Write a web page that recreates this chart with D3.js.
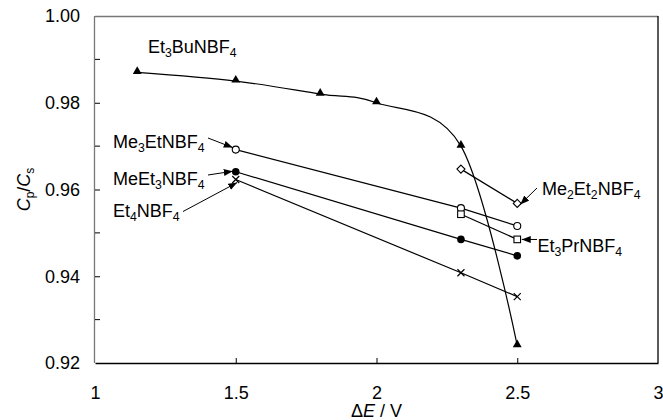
<!DOCTYPE html>
<html><head><meta charset="utf-8">
<script src="https://cdn.jsdelivr.net/npm/d3@7/dist/d3.min.js"></script>
<style>body{margin:0;background:#fff}svg{display:block}text{font-family:"Liberation Sans",Arial,sans-serif;fill:#000}</style>
</head><body><svg id="c" width="663" height="420"></svg>
<script>
// ---- data ----
const xTicks = [1, 1.5, 2, 2.5, 3];
const yTicks = [0.92, 0.94, 0.96, 0.98, 1.00];
const yMinorTicks = [0.93, 0.95, 0.97, 0.99];
const seriesNames = ["Et3BuNBF4", "Me3EtNBF4", "MeEt3NBF4", "Et4NBF4", "Me2Et2NBF4", "Et3PrNBF4"];
const et3BuX = [1.15, 1.5, 1.8, 2.0, 2.3, 2.5];
const et3BuY = [0.987, 0.985, 0.982, 0.980, 0.970, 0.924];
const me3EtX = [1.5, 2.3, 2.5];
const me3EtY = [0.9692, 0.9557, 0.9516];
const meEt3X = [1.5, 2.3, 2.5];
const meEt3Y = [0.9641, 0.9485, 0.9447];
const et4X = [1.5, 2.3, 2.5];
const et4Y = [0.9623, 0.9408, 0.9353];
const me2Et2X = [2.3, 2.5];
const me2Et2Y = [0.9647, 0.9568];
const et3PrX = [2.3, 2.5];
const et3PrY = [0.9543, 0.9485];

const svg = d3.select("#c");
const L = 95, R = 658, T = 16, B = 363;
const x = d3.scaleLinear().domain([1, 3]).range([L, R]);
const y = d3.scaleLinear().domain([0.92, 1.00]).range([B, T]);

// frame
svg.append("line").attr("x1", L).attr("x2", R).attr("y1", T + 0.5).attr("y2", T + 0.5).attr("stroke", "#777").attr("stroke-width", 1.3);
svg.append("line").attr("x1", L - 0.5).attr("x2", L - 0.5).attr("y1", T).attr("y2", B).attr("stroke", "#777").attr("stroke-width", 1.3);
svg.append("line").attr("x1", R).attr("x2", R).attr("y1", T).attr("y2", B).attr("stroke", "#000").attr("stroke-width", 1.3);

// axes
const xAxis = d3.axisBottom(x).tickValues(xTicks).tickFormat(d3.format("")).tickSizeInner(-5).tickSizeOuter(0).tickPadding(23);
const gx = svg.append("g").attr("transform", `translate(0,${B})`).call(xAxis);
gx.select(".domain").attr("stroke", "#000").attr("stroke-width", 1.3);
gx.selectAll(".tick line").attr("stroke", "#000").filter(d => d === 1 || d === 3).remove();
gx.selectAll(".tick text").style("font-size", "18px").style("font-family", '"Liberation Sans",Arial,sans-serif');

const yAxis = d3.axisLeft(y).tickValues(yTicks).tickFormat(d3.format(".2f")).tickSizeInner(-5).tickSizeOuter(0).tickPadding(15);
const gy = svg.append("g").attr("transform", `translate(${L},0)`).call(yAxis);
gy.select(".domain").remove();
gy.selectAll(".tick line").attr("stroke", "#000").filter(d => d === 0.92 || d === 1.00).remove();
gy.selectAll(".tick text").style("font-size", "18px").style("font-family", '"Liberation Sans",Arial,sans-serif');
gy.selectAll(".minor").data(yMinorTicks).enter().append("line")
  .attr("x1", 0).attr("x2", 5).attr("y1", d => y(d)).attr("y2", d => y(d)).attr("stroke", "#000");

// axis titles
const xt = svg.append("text").attr("x", (L + R) / 2).attr("y", 417).attr("text-anchor", "middle").style("font-size", "18px");
xt.append("tspan").text("Δ");
xt.append("tspan").style("font-style", "italic").text("E");
xt.append("tspan").text(" / V");
const yt = svg.append("text").attr("transform", `translate(30,${(T + B) / 2}) rotate(-90)`).attr("text-anchor", "middle").style("font-size", "18px");
yt.append("tspan").style("font-style", "italic").text("C");
yt.append("tspan").attr("dy", 4).style("font-size", "12px").text("p");
yt.append("tspan").attr("dy", -4).text("/");
yt.append("tspan").style("font-style", "italic").text("C");
yt.append("tspan").attr("dy", 4).style("font-size", "12px").text("s");

// lines
const zip = (xs, ys) => xs.map((v, i) => [v, ys[i]]);
const straight = d3.line().x(d => x(d[0])).y(d => y(d[1]));
const smooth = d3.line().x(d => x(d[0])).y(d => y(d[1])).curve(d3.curveCardinal.tension(0));
const gl = svg.append("g").attr("fill", "none").attr("stroke", "#000").attr("stroke-width", 1.2);
gl.append("path").attr("d", smooth(zip(et3BuX, et3BuY)));
[[me3EtX, me3EtY], [meEt3X, meEt3Y], [et4X, et4Y], [me2Et2X, me2Et2Y], [et3PrX, et3PrY]]
  .forEach(([xs, ys]) => gl.append("path").attr("d", straight(zip(xs, ys))));

// markers
const gm = svg.append("g");
gm.selectAll(".tri").data(zip(et3BuX, et3BuY)).enter().append("path")
  .attr("d", d3.symbol(d3.symbolTriangle, 34)).attr("transform", d => `translate(${x(d[0])},${y(d[1]) - 1})`).attr("fill", "#000");
gm.selectAll(".oc").data(zip(me3EtX, me3EtY)).enter().append("circle")
  .attr("cx", d => x(d[0])).attr("cy", d => y(d[1])).attr("r", 3.5).attr("fill", "#fff").attr("stroke", "#000").attr("stroke-width", 1.1);
gm.selectAll(".fc").data(zip(meEt3X, meEt3Y)).enter().append("circle")
  .attr("cx", d => x(d[0])).attr("cy", d => y(d[1])).attr("r", 3.8).attr("fill", "#000");
gm.selectAll(".xm").data(zip(et4X, et4Y)).enter().append("path")
  .attr("d", "M-3.5,-3.5L3.5,3.5M-3.5,3.5L3.5,-3.5").attr("transform", d => `translate(${x(d[0])},${y(d[1])})`).attr("stroke", "#000").attr("stroke-width", 1.2);
gm.selectAll(".dm").data(zip(me2Et2X, me2Et2Y)).enter().append("path")
  .attr("d", "M0,-4L4,0L0,4L-4,0Z").attr("transform", d => `translate(${x(d[0])},${y(d[1])})`).attr("fill", "#fff").attr("stroke", "#000").attr("stroke-width", 1.1);
gm.selectAll(".sq").data(zip(et3PrX, et3PrY)).enter().append("rect")
  .attr("x", d => x(d[0]) - 3.3).attr("y", d => y(d[1]) - 3.3).attr("width", 6.6).attr("height", 6.6).attr("fill", "#fff").attr("stroke", "#000").attr("stroke-width", 1.1);

// labels
function chem(t, name, size) {
  const parts = name.match(/\d+|\D+/g);
  let sub = false;
  parts.forEach(p => {
    const isNum = /\d/.test(p);
    const ts = t.append("tspan").text(p);
    if (isNum && !sub) { ts.attr("dy", 4).style("font-size", (size * 0.68) + "px"); sub = true; }
    else if (!isNum && sub) { ts.attr("dy", -4); sub = false; }
  });
}
const labelPos = [[148, 53], [113, 148], [113, 184.5], [113, 216.5], [542, 195], [537.5, 251.5]];
labelPos.forEach((p, i) => {
  const t = svg.append("text").attr("x", p[0]).attr("y", p[1]).style("font-size", "18px");
  chem(t, seriesNames[i], 18);
});

// arrows: tail in px, tip = data point + small offset
const defs = svg.append("defs");
defs.append("marker").attr("id", "ah").attr("markerUnits", "userSpaceOnUse").attr("markerWidth", 10).attr("markerHeight", 8)
  .attr("refX", 9).attr("refY", 3.5).attr("orient", "auto")
  .append("path").attr("d", "M0,0L9,3.5L0,7Z").attr("fill", "#000");
const arrows = [
  { tail: [208, 138], pt: [me3EtX[0], me3EtY[0]], off: [-3, -2] },
  { tail: [208, 175], pt: [meEt3X[0], meEt3Y[0]], off: [-3, -0.5] },
  { tail: [183, 211.5], pt: [et4X[0], et4Y[0]], off: [1.5, 3] },
  { tail: [537, 188], pt: [me2Et2X[1], me2Et2Y[1]], off: [3, 1] },
  { tail: [537, 239.5], pt: [et3PrX[1], et3PrY[1]], off: [4.5, 0] }
];
arrows.forEach(a => {
  svg.append("line").attr("x1", a.tail[0]).attr("y1", a.tail[1])
    .attr("x2", x(a.pt[0]) + a.off[0]).attr("y2", y(a.pt[1]) + a.off[1])
    .attr("stroke", "#000").attr("stroke-width", 1).attr("marker-end", "url(#ah)");
});
</script></body></html>
